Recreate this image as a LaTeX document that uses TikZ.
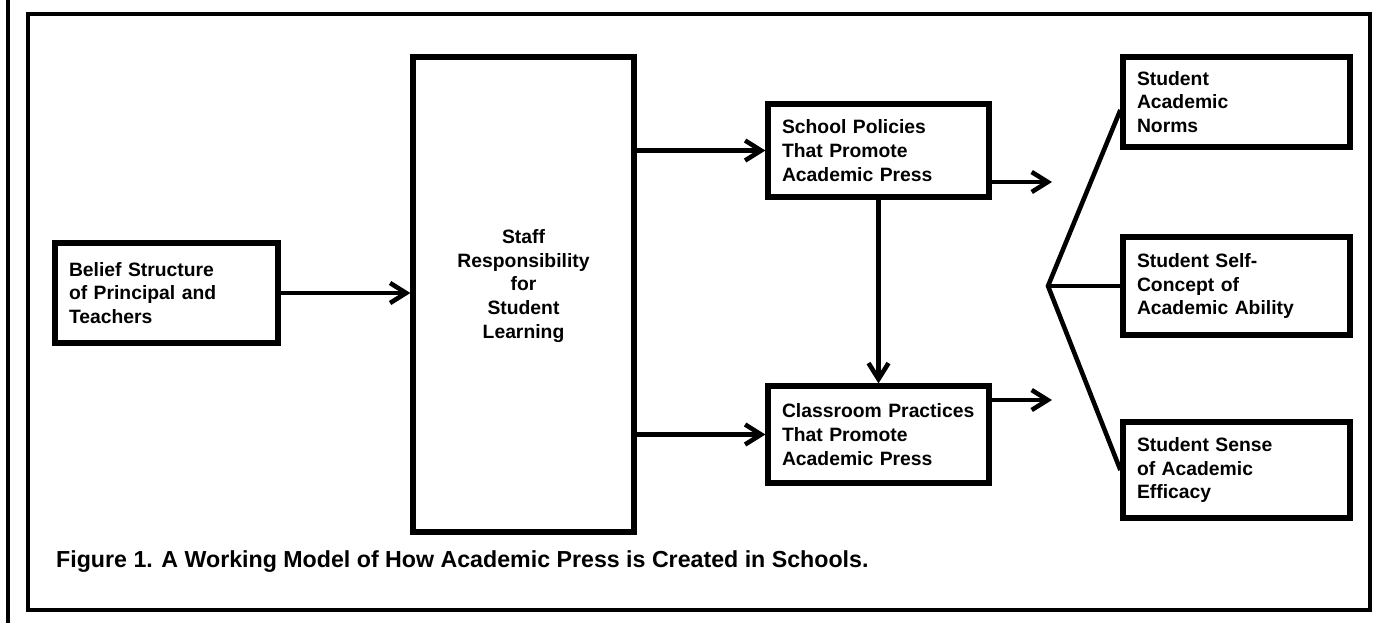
\documentclass[tikz,border=0pt]{standalone}
\usepackage{fontspec}
\setmainfont{Liberation Sans}
\usetikzlibrary{arrows.meta}

\begin{document}
\begin{tikzpicture}[x=0.02cm,y=-0.02cm,
    cell/.style={draw,line width=3pt,inner xsep=0.28cm,inner ysep=0pt,align=left,
      font=\fontsize{11}{13.6}\selectfont\bfseries},
    flow/.style={line width=2.6pt,-{Straight Barb[length=0.32cm,width=0.4cm]}},
    link/.style={line width=2.6pt}]
  \useasboundingbox (0,0) rectangle (1376,623);
  % page rule and outer frame
  \draw[line width=2.4pt] (8,0) -- (8,623);
  \draw[line width=2.4pt] (28,14) rectangle (1370,610);

  \node[cell,text width=3.9cm,minimum height=2cm] (belief) at (166.5,293)
    {Belief Structure\\of Principal and\\Teachers};
  \node[cell,minimum width=4.42cm,minimum height=9.5cm] (staff) at (523.5,294.5) {};
  \node[font=\fontsize{11}{13.6}\selectfont\bfseries,align=center] (stafftext) at (523.5,286)
    {Staff\\Responsibility\\for\\Student\\Learning};
  \node[cell,text width=3.86cm,minimum height=1.86cm] (policy) at (878.5,150.5)
    {School Policies\\That Promote\\Academic Press};
  \node[cell,text width=3.86cm,minimum height=1.94cm] (practice) at (878.5,434.5)
    {Classroom Practices\\That Promote\\Academic Press};
  \node[cell,text width=3.98cm,minimum height=1.8cm] (norms) at (1236.5,102)
    {Student\\Academic\\Norms};
  \node[cell,text width=3.98cm,minimum height=1.96cm] (selfcon) at (1236.5,286)
    {Student Self-\\Concept of\\Academic Ability};
  \node[cell,text width=3.98cm,minimum height=1.92cm] (efficacy) at (1236.5,470)
    {Student Sense\\of Academic\\Efficacy};

  % arrows between the blocks
  \draw[flow] (belief.east) -- (staff.west |- belief.east);
  \draw[flow] (staff.east |- policy.west) -- (policy.west);
  \draw[flow] (staff.east |- practice.west) -- (practice.west);
  \draw[flow] (policy.south) -- (practice.north);
  \coordinate (pout) at (1052,182);
  \coordinate (cout) at (1052,400);
  \draw[flow] (policy.east |- pout) -- (pout);
  \draw[flow] (practice.east |- cout) -- (cout);

  % fan out to the student outcomes
  \coordinate (fork) at (1048,286);
  \draw[link,line join=miter] ([yshift=-0.16cm]norms.west) -- (fork) -- (efficacy.west);
  \draw[link] (fork) -- (selfcon.west);

  \node[anchor=west,font=\fontsize{13.2}{15}\selectfont\bfseries] (caption) at (50,562)
    {Figure 1. A Working Model of How Academic Press is Created in Schools.};
\end{tikzpicture}
\end{document}
